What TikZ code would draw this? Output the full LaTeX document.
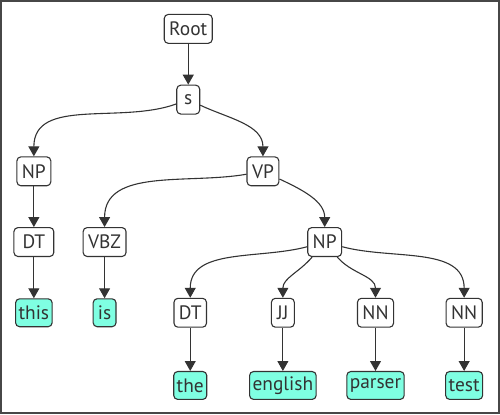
\documentclass[tikz,border=0pt]{standalone}
\usepackage{fontspec}
\setmainfont{PT Sans}
\usepackage{xcolor}
\usepackage{tikz}
\usetikzlibrary{arrows.meta, positioning}
\definecolor{ink}{HTML}{333333}
\definecolor{leaf}{RGB}{127,255,226}
\tikzset{
    tag/.style={
        rectangle,
        rounded corners=4pt,
        draw=ink,
        line width=1.1pt,
        fill=white,
        text=ink,
        inner xsep=5pt,
        inner ysep=0pt,
        minimum width=23pt,
        minimum height=29pt,
        font=\fontsize{19.5}{21}\selectfont,
    },
    word/.style={
        tag,
        fill=leaf,
        inner xsep=3pt,
        minimum height=28pt,
    },
}

\begin{document}
\begin{tikzpicture}[-{Triangle[width=11pt,length=10pt]}, draw=ink, line width=1.1pt, node distance=71pt, on grid]
      \draw[-, line width=2pt, draw=ink!90] (0pt,0pt) rectangle (500pt,-414pt);
      \node[tag] (root) at (188pt,-28pt) {Root};
      \node[tag, below=of root] (s) {s};
      \node[tag, below left=72pt and 155pt of s] (np1) {NP};
      \node[tag, below right=72pt and 75pt of s] (vp) {VP};
      \node[tag, below=of np1, minimum width=40pt] (dt1) {DT};
      \node[tag, below left=71pt and 159pt of vp] (vbz) {VBZ};
      \node[tag, below right=71pt and 62pt of vp] (np2) {NP};
      \node[word, below=of dt1] (this) {this};
      \node[word, below=of vbz] (is) {is};
      \node[tag, below left=71pt and 135pt of np2] (dt2) {DT};
      \node[tag, below left=71pt and 42pt of np2] (jj) {JJ};
      \node[tag, below right=71pt and 51pt of np2] (nn1) {NN};
      \node[tag, below right=71pt and 140pt of np2] (nn2) {NN};
      \node[word, below=73pt of dt2] (the) {the};
      \node[word, below=73pt of jj] (english) {english};
      \node[word, below=73pt of nn1] (parser) {parser};
      \node[word, below=73pt of nn2] (test) {test};

      \draw (root) -- (s);
      \draw (s) to[out=200, in=90] (np1.north);
      \draw (s) to[out=-25, in=90] (vp.north);
      \draw (np1) -- (dt1);
      \draw (vp) to[out=190, in=90] (vbz.north);
      \draw (vp) to[out=-25, in=90] (np2.north);
      \draw (dt1) -- (this);
      \draw (vbz) -- (is);
      \draw (np2) to[out=195, in=90] (dt2.north);
      \draw (np2) to[out=230, in=90] (jj.north);
      \draw (np2) to[out=-50, in=90] (nn1.north);
      \draw (np2) to[out=-15, in=90] (nn2.north);
      \draw (dt2) -- (the);
      \draw (jj) -- (english);
      \draw (nn1) -- (parser);
      \draw (nn2) -- (test);
    \end{tikzpicture}
\end{document}
